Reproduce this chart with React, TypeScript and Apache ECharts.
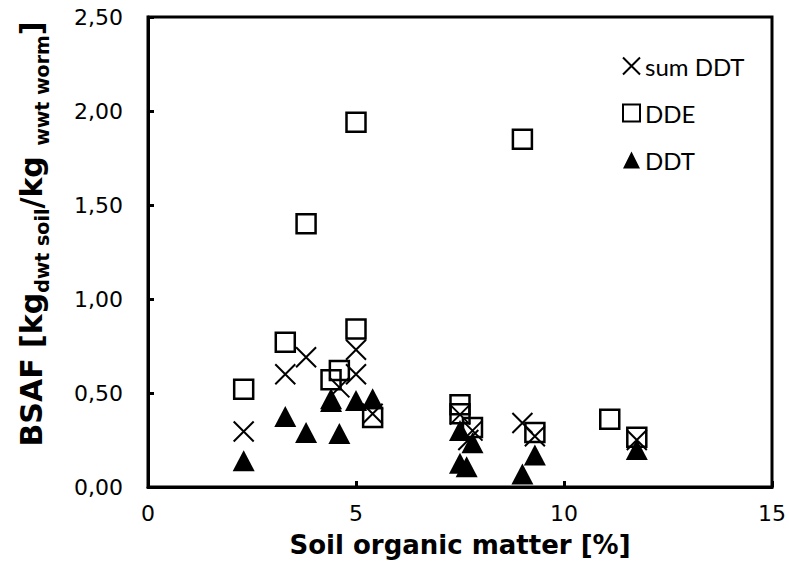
import React, { useEffect, useRef } from "react";
import * as echarts from "echarts";

const seriesNames = ["sum DDT", "DDE", "DDT"];

const sumDDT: [number, number][] = [
  [2.3, 0.295], [3.3, 0.6], [3.8, 0.69], [4.6, 0.53], [5.0, 0.73], [5.0, 0.6],
  [5.4, 0.39], [7.5, 0.385], [7.7, 0.25], [7.8, 0.3], [9.0, 0.34], [9.3, 0.27], [11.75, 0.25],
];

const dde: [number, number][] = [
  [2.3, 0.52], [3.3, 0.77], [3.8, 1.4], [4.4, 0.57], [4.6, 0.62], [5.0, 0.84],
  [5.0, 1.94], [5.4, 0.37], [7.5, 0.437], [7.5, 0.39], [7.8, 0.316], [9.0, 1.85],
  [9.3, 0.29], [11.1, 0.36], [11.75, 0.265],
];

const ddt: [number, number][] = [
  [2.3, 0.14], [3.3, 0.375], [3.8, 0.29], [4.4, 0.455], [4.4, 0.47], [4.6, 0.285],
  [5.0, 0.46], [5.4, 0.47], [7.5, 0.3], [7.5, 0.126], [7.66, 0.108], [7.8, 0.236],
  [9.0, 0.069], [9.3, 0.17], [11.75, 0.2],
];

const xTicks = { min: 0, max: 15, interval: 5 };
const yTicks = { min: 0, max: 2.5, interval: 0.5 };

const crossPath = "path://M0,0L20,20M20,0L0,20";

export default function App() {
  const ref = useRef<HTMLDivElement>(null);
  useEffect(() => {
    if (!ref.current) return;
    const chart = echarts.init(ref.current, undefined, { renderer: "svg" });
    const tickFont = { fontFamily: "DejaVu Sans", fontSize: 22, color: "#000" };
    chart.setOption({
      animation: false,
      backgroundColor: "#fff",
      grid: {
        left: 148,
        right: 17,
        top: 17,
        bottom: 86,
        show: true,
        borderColor: "#000",
        borderWidth: 3,
        backgroundColor: "transparent",
      },
      legend: {
        orient: "vertical",
        left: 617,
        top: 49,
        itemGap: 23,
        itemWidth: 17,
        itemHeight: 17,
        data: seriesNames,
        textStyle: { fontFamily: "Lato", fontSize: 24, color: "#000" },
      },
      xAxis: {
        type: "value",
        ...xTicks,
        axisLine: { show: true, lineStyle: { color: "#000", width: 3 } },
        axisTick: { show: true, inside: true, length: 6, lineStyle: { color: "#000", width: 3 } },
        splitLine: { show: false },
        axisLabel: { ...tickFont, margin: 15 },
        name: "Soil organic matter [%]",
        nameLocation: "middle",
        nameGap: 45,
        nameTextStyle: { fontFamily: "DejaVu Sans", fontSize: 26, fontWeight: "bold", color: "#000" },
      },
      yAxis: {
        type: "value",
        ...yTicks,
        axisLine: { show: true, lineStyle: { color: "#000", width: 3 } },
        axisTick: { show: true, inside: true, length: 6, lineStyle: { color: "#000", width: 3 } },
        splitLine: { show: false },
        axisLabel: {
          ...tickFont,
          margin: 25,
          formatter: (v: number) => v.toFixed(2).replace(".", ","),
        },
      },
      graphic: [
        {
          type: "text",
          x: 31,
          y: 234,
          rotation: Math.PI / 2,
          style: {
            text: "{m|BSAF [kg}{s|dwt soil}{m|/kg }{s|wwt worm}{m|]}",
            align: "center",
            verticalAlign: "middle",
            fill: "#000",
            rich: {
              m: { fontFamily: "DejaVu Sans", fontSize: 30, fontWeight: "bold", lineHeight: 40, verticalAlign: "middle", fill: "#000" },
              s: { fontFamily: "DejaVu Sans", fontSize: 19, fontWeight: "bold", lineHeight: 21, verticalAlign: "bottom", fill: "#000" },
            },
          },
        },
      ],
      series: [
        {
          name: seriesNames[0],
          type: "scatter",
          symbol: crossPath,
          symbolSize: 20,
          data: sumDDT,
          itemStyle: { color: "rgba(0,0,0,0)", borderColor: "#000", borderWidth: 2, opacity: 1 },
          z: 3,
        },
        {
          name: seriesNames[1],
          type: "scatter",
          symbol: "rect",
          symbolSize: 19,
          data: dde,
          itemStyle: { color: "rgba(0,0,0,0)", borderColor: "#000", borderWidth: 2.5, opacity: 1 },
          z: 2,
        },
        {
          name: seriesNames[2],
          type: "scatter",
          symbol: "triangle",
          symbolSize: [22, 21],
          data: ddt,
          itemStyle: { color: "#000", opacity: 1 },
          z: 1,
        },
      ],
    });
    return () => chart.dispose();
  }, []);
  return <div ref={ref} style={{ width: 789, height: 573, position: "absolute", left: 0, top: 0 }} />;
}
